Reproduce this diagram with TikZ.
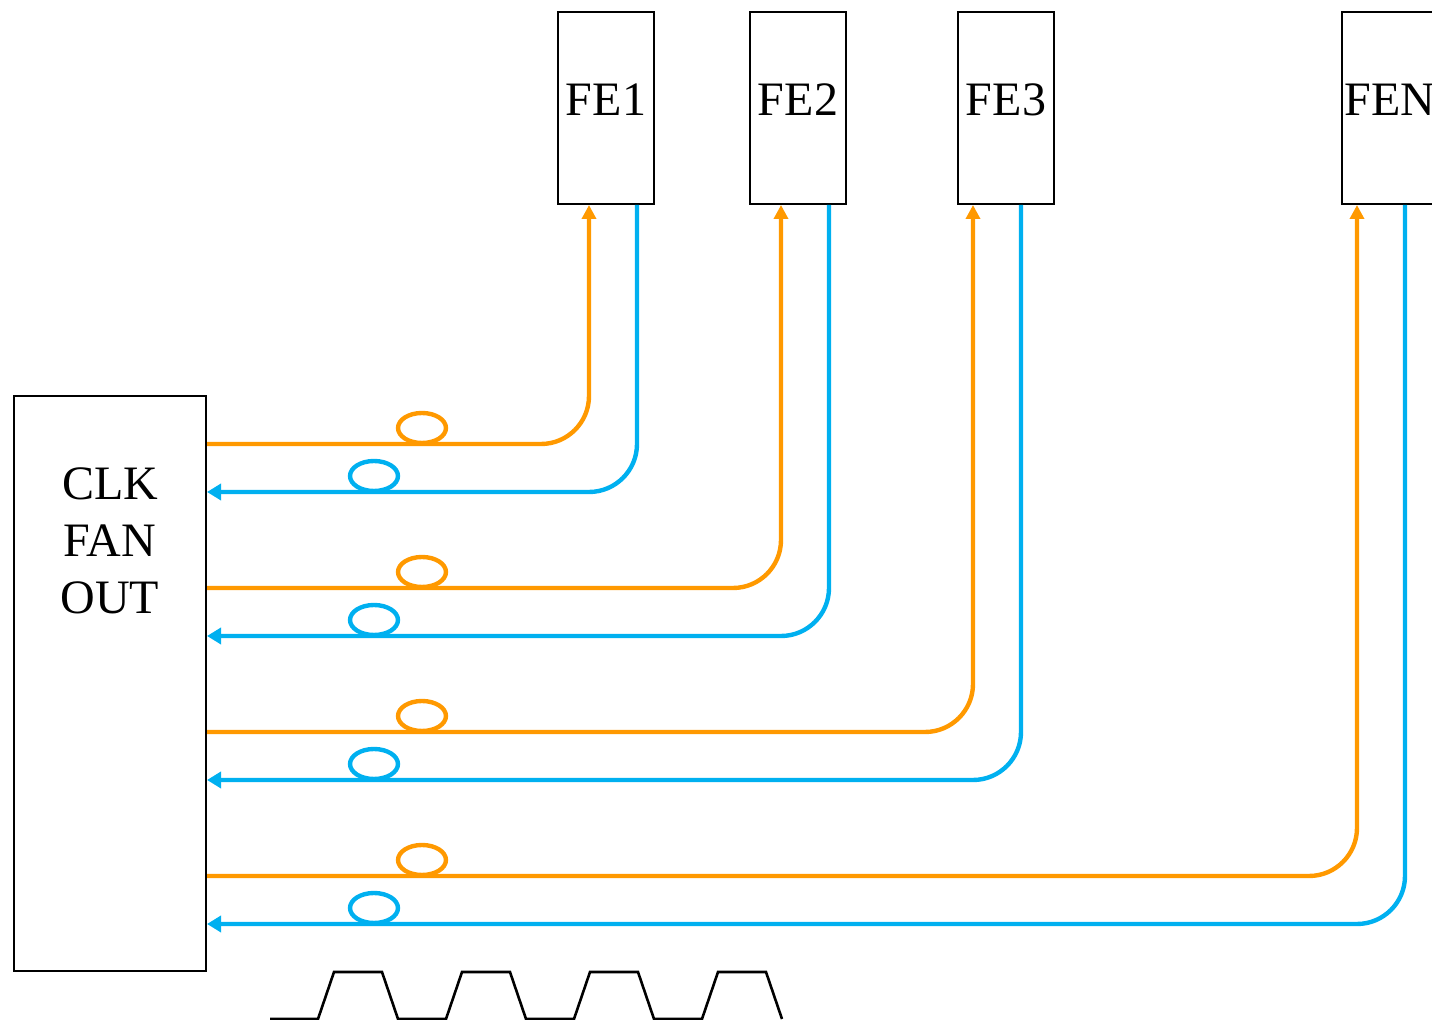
\documentclass[tikz,border=0pt]{standalone}
\usepackage{fontspec}
\setmainfont{Liberation Serif}
\usetikzlibrary{arrows.meta}
\definecolor{txorange}{RGB}{255,153,0}
\definecolor{rxblue}{RGB}{0,176,240}

\begin{document}
\begin{tikzpicture}[x=0.5pt,y=-0.5pt,
  box/.style={draw,line width=1pt,inner sep=0pt},
  fe/.style={box,minimum width=48pt,minimum height=96pt,text depth=8pt,font=\fontsize{24}{28.5}\selectfont},
  tx/.style={txorange,line width=2.2pt,rounded corners=24pt,-{Triangle[length=7pt,width=7pt]}},
  rx/.style={rxblue,line width=2.2pt,rounded corners=24pt,-{Triangle[length=7pt,width=8pt]}},
  txloop/.style={txorange,line width=2.2pt},
  rxloop/.style={rxblue,line width=2.2pt},
  wave/.style={line width=1.3pt,line join=miter}]
  \useasboundingbox (0,0) rectangle (1432,1020);
  \clip (0,0) rectangle (1432,1020);

  % fan-out box and front ends
  \node[box,minimum width=96pt,minimum height=287.5pt] (clk) at (110,683.5) {};
  \node[font=\fontsize{24}{28.5}\selectfont,align=center] (clktxt) at (110,541) {CLK\\FAN\\OUT};
  \node[fe] (fe1) at (606,108) {FE1};
  \node[fe] (fe2) at (798,108) {FE2};
  \node[fe] (fe3) at (1006,108) {FE3};
  \node[fe] (fen) at (1390,108) {FEN};

  % line ends on the fan-out box
  \coordinate (tx1) at (clk.east |- 0,444);
  \coordinate (rx1) at (clk.east |- 0,492);
  \coordinate (tx2) at (clk.east |- 0,588);
  \coordinate (rx2) at (clk.east |- 0,636);
  \coordinate (tx3) at (clk.east |- 0,732);
  \coordinate (rx3) at (clk.east |- 0,780);
  \coordinate (txn) at (clk.east |- 0,876);
  \coordinate (rxn) at (clk.east |- 0,924);

  % clock out
  \draw[tx] (tx1) -| ([xshift=16pt]fe1.south west);
  \draw[tx] (tx2) -| ([xshift=16pt]fe2.south west);
  \draw[tx] (tx3) -| ([xshift=8pt]fe3.south west);
  \draw[tx] (txn) -| ([xshift=8pt]fen.south west);
  % clock back
  \draw[rx] ([xshift=40pt]fe1.south west) |- (rx1);
  \draw[rx] ([xshift=40pt]fe2.south west) |- (rx2);
  \draw[rx] ([xshift=32pt]fe3.south west) |- (rx3);
  \draw[rx] ([xshift=32pt]fen.south west) |- (rxn);

  % fibre loops
  \draw[txloop] (422,428) ellipse [x radius=12pt,y radius=7.5pt];
  \draw[txloop] (422,572) ellipse [x radius=12pt,y radius=7.5pt];
  \draw[txloop] (422,716) ellipse [x radius=12pt,y radius=7.5pt];
  \draw[txloop] (422,860) ellipse [x radius=12pt,y radius=7.5pt];
  \draw[rxloop] (374,476) ellipse [x radius=12pt,y radius=7.5pt];
  \draw[rxloop] (374,620) ellipse [x radius=12pt,y radius=7.5pt];
  \draw[rxloop] (374,764) ellipse [x radius=12pt,y radius=7.5pt];
  \draw[rxloop] (374,908) ellipse [x radius=12pt,y radius=7.5pt];

  % clock waveform
  \draw[wave] (270,1019) -- (318,1019) -- (334,972) -- (382,972) -- (398,1019)
    -- (446,1019) -- (462,972) -- (510,972) -- (526,1019)
    -- (574,1019) -- (590,972) -- (638,972) -- (654,1019)
    -- (702,1019) -- (718,972) -- (766,972) -- (782,1019);
\end{tikzpicture}
\end{document}
